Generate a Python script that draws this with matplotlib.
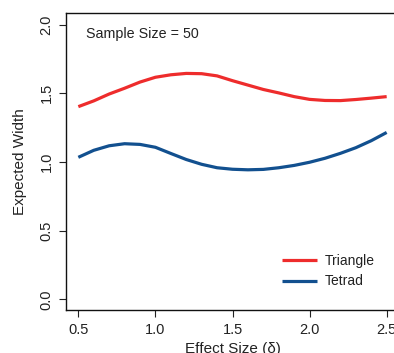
import matplotlib
matplotlib.use("Agg")
import matplotlib.pyplot as plt

effect_size = [0.5, 0.6, 0.7, 0.8, 0.9, 1.0, 1.1, 1.2, 1.3, 1.4, 1.5,
               1.6, 1.7, 1.8, 1.9, 2.0, 2.1, 2.2, 2.3, 2.4, 2.5]
triangle = [1.403, 1.445, 1.495, 1.537, 1.582, 1.617, 1.635, 1.645, 1.643, 1.627, 1.592,
            1.560, 1.528, 1.503, 1.476, 1.456, 1.448, 1.447, 1.455, 1.465, 1.476]
tetrad = [1.034, 1.085, 1.118, 1.133, 1.128, 1.107, 1.062, 1.018, 0.983, 0.958, 0.947,
          0.943, 0.946, 0.958, 0.975, 0.998, 1.027, 1.063, 1.104, 1.155, 1.215]
x_ticks = [0.5, 1.0, 1.5, 2.0, 2.5]
y_ticks = [0.0, 0.5, 1.0, 1.5, 2.0]
series_names = ["Triangle", "Tetrad"]
colors = ["#EE2C2C", "#12508F"]

plt.rcParams['font.family'] = ['Liberation Sans', 'DejaVu Sans']

W, H = 394, 353
fig = plt.figure(figsize=(W / 100, H / 100), dpi=100)
ax = fig.add_axes([66 / W, (H - 310) / H, 333 / W, 297 / H])

for ys, name, c in zip([triangle, tetrad], series_names, colors):
    ax.plot(effect_size, ys, color=c, lw=2.3, label=name,
            solid_capstyle='butt', solid_joinstyle='round')

ax.set_xlim(0.42, 2.58)
ax.set_ylim(-0.078, 2.085)
ax.set_xticks(x_ticks)
ax.set_xticklabels([f"{v:.1f}" for v in x_ticks])
ax.set_yticks(y_ticks)
ax.set_yticklabels([f"{v:.1f}" for v in y_ticks], rotation=90, va='center')
ax.tick_params(direction='out', length=5, width=0.8, labelsize=10.5, colors='#222222', pad=4)
for s in ax.spines.values():
    s.set_linewidth(1.0)
    s.set_color('#111111')

ax.set_xlabel("Effect Size (δ)", fontsize=11, color='#222222', labelpad=4)
ax.set_ylabel("Expected Width", fontsize=11, color='#222222', labelpad=9)

ax.text(20 / 333, 1 - 21 / 297, "Sample Size = 50", transform=ax.transAxes,
        fontsize=10.3, color='#222222', va='center', ha='left')

leg = ax.legend(loc='center left', bbox_to_anchor=((282 - 66) / 333, 1 - (271 - 13) / 297),
                frameon=False, fontsize=10, handlelength=2.5, handletextpad=0.55,
                labelspacing=0.5, borderpad=0, borderaxespad=0)
for t in leg.get_texts():
    t.set_color('#222222')

fig.savefig("out.png", dpi=100)
